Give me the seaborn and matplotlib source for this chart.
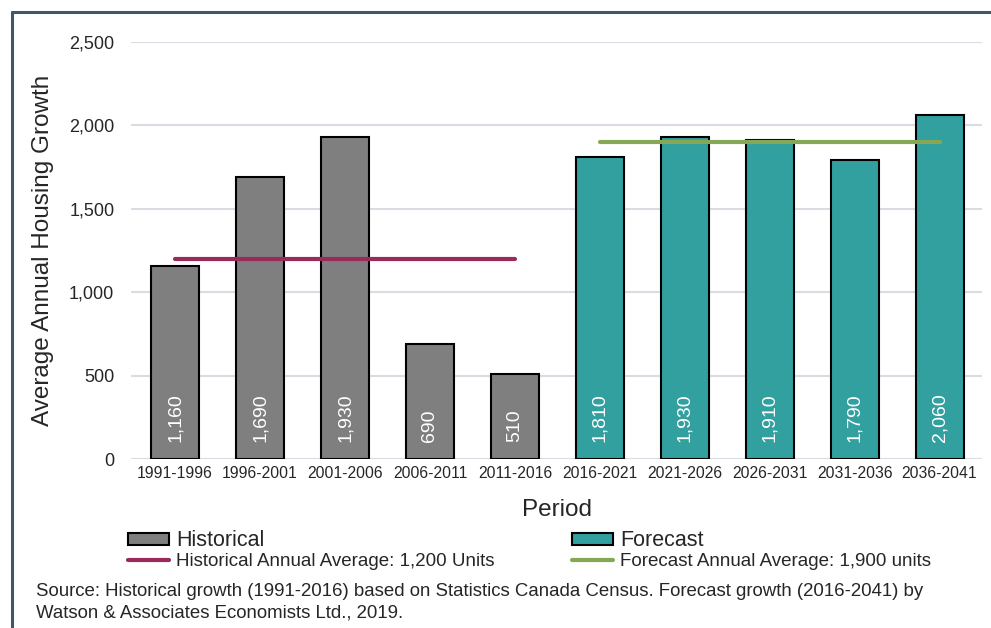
import numpy as np
import pandas as pd
import matplotlib
matplotlib.use("Agg")
import matplotlib.pyplot as plt
from matplotlib.lines import Line2D
from matplotlib.patches import Patch
import seaborn as sns

# data
periods = ["1991-1996", "1996-2001", "2001-2006", "2006-2011", "2011-2016",
           "2016-2021", "2021-2026", "2026-2031", "2031-2036", "2036-2041"]
growth = [1160, 1690, 1930, 690, 510, 1810, 1930, 1910, 1790, 2060]
kind = ["Historical"] * 5 + ["Forecast"] * 5
hist_avg = 1200
fcst_avg = 1900
hist_avg_label = "Historical Annual Average: 1,200 Units"
fcst_avg_label = "Forecast Annual Average: 1,900 units"
source_text = ("Source: Historical growth (1991-2016) based on Statistics Canada Census. "
               "Forecast growth (2016-2041) by\nWatson & Associates Economists Ltd., 2019.")

colors = {"Historical": "#7f7f7f", "Forecast": "#33a0a0"}
hist_line_color = "#9b2a5c"
fcst_line_color = "#86a856"

sns.set_theme(style="white")
plt.rcParams["font.family"] = ["Liberation Sans", "DejaVu Sans"]

df = pd.DataFrame({"Period": periods, "Growth": growth, "Type": kind})

fig = plt.figure(figsize=(9.91, 6.28), dpi=100)
ax = fig.add_axes([131 / 991, 1 - 459 / 628, (982 - 131) / 991, (459 - 42) / 628])

sns.barplot(data=df, x="Period", y="Growth", hue="Type", palette=colors,
            dodge=False, width=0.565, edgecolor="black", linewidth=1.5,
            saturation=1, legend=False, ax=ax, zorder=3)

# average lines across each group's bars
n_hist = kind.count("Historical")
ax.plot([0, n_hist - 1], [hist_avg, hist_avg], color=hist_line_color, lw=3,
        solid_capstyle="round", zorder=4)
ax.plot([n_hist, len(periods) - 1], [fcst_avg, fcst_avg], color=fcst_line_color, lw=3,
        solid_capstyle="round", zorder=4)

# value labels at base of bars
for i, v in enumerate(growth):
    ax.annotate(f"{v:,}", (i, 0), xytext=(0, 12), textcoords="offset points",
                rotation=90, ha="center", va="bottom", color="white", fontsize=14,
                zorder=5)

ax.set_ylim(0, 2500)
ax.set_xlim(-0.52, 9.5)
ax.set_yticks(range(0, 2501, 500))
ax.set_yticklabels([f"{t:,}" for t in range(0, 2501, 500)])
ax.yaxis.grid(True, color="#d9dde3", lw=1.5, zorder=0)
ax.set_axisbelow(True)
for s in ax.spines.values():
    s.set_visible(False)
ax.tick_params(axis="y", length=0, pad=12, labelsize=13)
ax.tick_params(axis="x", length=0, pad=5, labelsize=11.3)
ax.set_xlabel("Period", fontsize=17.5, labelpad=13)
ax.set_ylabel("Average Annual Housing Growth", fontsize=17.5, labelpad=11)

# legends (two columns)
def make_legend(label_patch, label_line, face, line_color, x):
    handles = [Patch(facecolor=face, edgecolor="black", linewidth=1.5),
               Line2D([0], [0], color=line_color, lw=3, solid_capstyle="round")]
    leg = fig.legend(handles, [label_patch, label_line], loc="upper left",
                     bbox_to_anchor=(x, 1 - 530 / 628), frameon=False, fontsize=13.5,
                     handlelength=2.2, handleheight=0.6, handletextpad=0.35,
                     labelspacing=0.1, borderpad=0, borderaxespad=0)
    leg.get_texts()[0].set_fontsize(15.5)
    return leg

make_legend("Historical", hist_avg_label, colors["Historical"], hist_line_color, 128 / 991)
make_legend("Forecast", fcst_avg_label, colors["Forecast"], fcst_line_color, 572 / 991)

fig.text(36 / 991, 1 - 583 / 628, source_text, fontsize=13.4, va="top", ha="left",
         linespacing=1.35)

# frame border (left and top)
border = "#44546a"
fig.add_artist(Line2D([12 / 991, 12 / 991], [0, 1 - 12 / 628], color=border, lw=2.2,
                      transform=fig.transFigure))
fig.add_artist(Line2D([12 / 991, 1], [1 - 12 / 628, 1 - 12 / 628], color=border, lw=2.2,
                      transform=fig.transFigure))

fig.savefig("out.png", dpi=100)
